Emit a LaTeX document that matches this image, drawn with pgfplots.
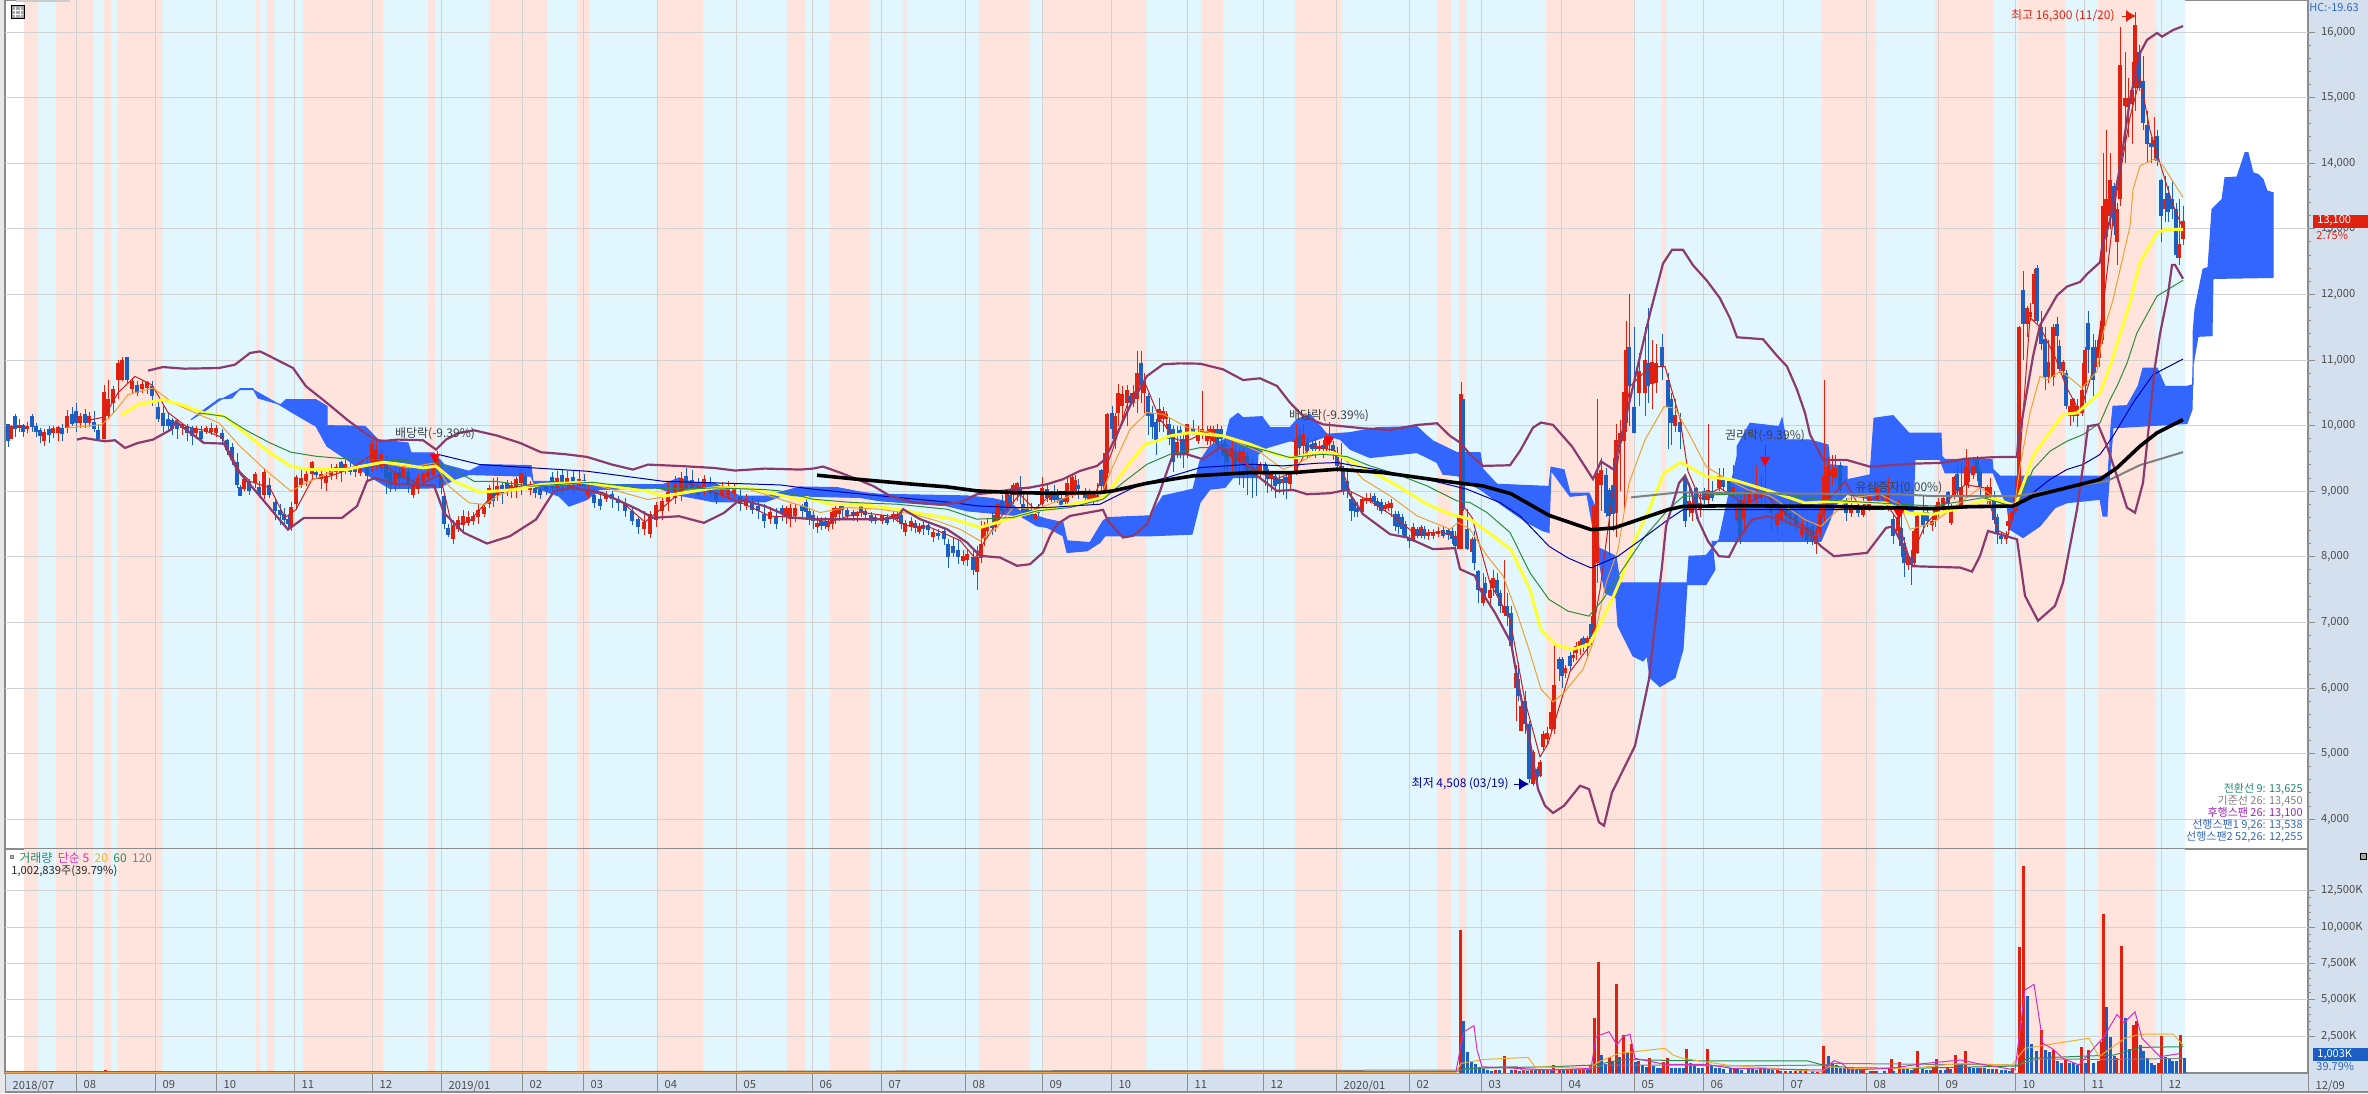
\documentclass[border=0pt]{standalone}
\usepackage{fontspec}
\setmainfont{Noto Sans CJK KR}
\usepackage{pgfplots}
\usepackage{pgfplotstable}
\pgfplotsset{compat=1.18}
\usetikzlibrary{arrows.meta}

\definecolor{bandpink}{HTML}{FFE4DE}
\definecolor{bandblue}{HTML}{E2F6FD}
\definecolor{stripbg}{HTML}{D5E0EE}
\definecolor{gridc}{HTML}{D2D2D2}
\definecolor{framec}{HTML}{8C8C8C}
\definecolor{upc}{HTML}{E2200F}
\definecolor{downc}{HTML}{1B5FC4}
\definecolor{cloud}{HTML}{3366FF}
\definecolor{bb}{HTML}{8B3A6E}
\definecolor{ma5}{HTML}{C62020}
\definecolor{ma20}{HTML}{F0A030}
\definecolor{ma60}{HTML}{FFFF30}
\definecolor{ma120}{HTML}{2E8B3A}
\definecolor{navyl}{HTML}{0000A0}
\definecolor{longg}{HTML}{808080}
\definecolor{volm}{HTML}{D030C0}
\definecolor{volo}{HTML}{F0B030}
\definecolor{volg}{HTML}{2E8B50}
\definecolor{teal}{HTML}{1F8A70}
\definecolor{purp}{HTML}{A020C0}
\definecolor{txtblue}{HTML}{3366BB}

% x is the pixel column of the reference, prices in won, volume in thousands
\pgfplotstableread{
x y
24 20000
38 0
56 20000
93 0
104 20000
111 0
118 20000
162 0
256 20000
260 0
267 20000
274 0
303 20000
383 0
428 20000
435 0
489 20000
547 0
577 20000
589 0
657 20000
703 0
787 20000
805 0
830 20000
870 0
903 20000
906 0
979 20000
1030 0
1042 20000
1146 0
1201 20000
1223 0
1295 20000
1342 0
1437 20000
1451 0
1459 20000
1466 0
1546 20000
1633 0
1662 20000
1666 0
1822 20000
1876 0
1935 20000
1993 0
2018 20000
2065 0
2098 20000
2156 0
}\bands

\pgfplotstableread{
x up lo hi bot top
8 0 9680 10020 9760 10020
11 1 9790 10010 9800 9990
15 0 9830 10170 9950 10140
19 1 9900 10100 9960 10010
23 0 9820 10020 9900 10010
27 1 9880 10060 9950 9990
32 0 9900 10170 9980 10140
36 0 9830 10040 9900 9990
40 0 9740 9960 9840 9940
44 1 9690 9950 9760 9900
49 0 9740 9990 9860 9950
53 1 9810 9990 9890 9960
58 1 9760 9990 9880 9980
62 0 9760 10020 9870 9960
67 1 9890 10240 9960 10140
72 0 10000 10280 10020 10180
76 0 9900 10340 10040 10220
80 1 9960 10190 10040 10140
85 0 9960 10260 10040 10170
89 1 9980 10210 10040 10140
94 0 9900 10230 9950 10060
98 0 9780 10020 9800 9930
104 1 9790 10620 9790 10510
108 1 10100 10700 10150 10400
113 1 10200 10600 10350 10560
118 1 10400 11000 10700 10960
122 1 10680 11040 10700 11000
127 0 10650 11050 10700 11040
132 1 10500 10720 10560 10680
137 0 10450 10680 10500 10620
142 1 10500 10700 10560 10640
147 1 10480 10680 10580 10660
152 0 10300 10680 10450 10600
158 0 10050 10400 10100 10280
163 0 9900 10300 10000 10200
168 0 9930 10200 10000 10100
172 0 9850 10120 9950 10080
177 0 9800 10100 9950 10060
182 1 9850 10040 9960 10030
187 0 9760 10030 9880 9990
192 0 9700 10000 9840 9960
196 1 9800 10000 9890 9950
201 0 9740 9990 9800 9920
206 1 9870 10000 9900 9970
211 1 9860 10040 9910 9970
216 1 9830 10010 9880 9960
222 0 9700 9950 9790 9890
227 0 9550 9800 9630 9780
232 0 9400 9730 9470 9680
237 0 9050 9580 9100 9450
240 0 8920 9100 8926 9070
244 1 9000 9230 9040 9190
249 0 8950 9180 9000 9140
255 1 9050 9300 9120 9260
259 0 8900 9150 8940 9070
264 1 8880 9350 8950 9300
269 0 8900 9200 8950 9100
275 0 8560 8880 8700 8840
280 0 8480 8800 8630 8720
284 0 8450 8740 8560 8660
288 0 8430 8630 8500 8580
291 1 8400 8830 8450 8760
296 1 8720 9250 8800 9210
301 1 9050 9360 9100 9200
306 1 9080 9340 9150 9260
312 1 9170 9460 9260 9440
316 0 9190 9340 9250 9300
321 1 9030 9320 9180 9270
326 1 9000 9300 9120 9230
331 1 9170 9420 9240 9340
336 1 9180 9420 9290 9370
341 0 9140 9460 9300 9450
345 1 9270 9470 9320 9420
350 0 9250 9450 9300 9370
355 0 9220 9370 9300 9340
360 1 9230 9370 9280 9350
367 0 9140 9500 9230 9420
372 1 9300 9800 9450 9720
376 1 9330 9790 9420 9650
381 1 9260 9640 9350 9560
386 0 8960 9530 9200 9420
390 0 8990 9350 9100 9300
395 1 9000 9400 9100 9280
399 0 9060 9350 9180 9300
403 1 9150 9420 9200 9400
408 0 8980 9380 9100 9300
413 1 8900 9200 8950 9100
418 1 8960 9260 9040 9200
423 1 9060 9300 9150 9260
428 1 9160 9370 9220 9300
433 1 9180 9480 9250 9420
437 1 9300 9620 9350 9480
441 0 8960 9400 9050 9310
444 0 8420 8950 8500 8930
448 0 8300 8500 8340 8440
453 1 8200 8560 8270 8470
458 1 8380 8620 8420 8560
463 1 8400 8720 8480 8620
468 1 8470 8700 8520 8600
473 1 8480 8680 8540 8620
478 1 8500 8800 8600 8720
484 1 8600 8800 8660 8760
489 1 8750 9100 8800 9050
493 0 8760 9200 8850 9000
497 1 8850 9220 8950 9080
502 0 8800 9130 8970 9090
507 0 8930 9170 9000 9120
511 1 8900 9160 9000 9100
516 1 8900 9220 9060 9180
521 1 8950 9320 9120 9280
525 0 9050 9290 9100 9230
530 1 8950 9160 9020 9100
535 0 8900 9100 8970 9050
540 0 8880 9120 8950 9030
546 0 8950 9130 9020 9100
552 0 8960 9290 9050 9220
557 1 8950 9310 9050 9200
562 0 8950 9320 9100 9250
567 1 9000 9310 9100 9200
573 0 8960 9310 9120 9210
579 1 9000 9330 9080 9190
584 0 9020 9260 9080 9170
588 1 8880 9100 8950 9040
594 0 8750 9030 8820 8950
600 0 8720 8970 8780 8880
606 1 8830 9000 8880 8950
612 0 8750 9000 8880 8960
618 0 8700 8920 8820 8880
625 0 8600 8900 8700 8820
632 0 8480 8780 8550 8700
638 0 8350 8620 8450 8580
644 1 8330 8700 8430 8530
650 1 8280 8700 8350 8650
656 1 8460 8840 8560 8790
662 1 8560 8950 8700 8850
668 1 8700 9150 8830 8990
675 1 8800 9230 8900 9130
681 1 8850 9290 9000 9200
686 0 8980 9350 9040 9230
692 0 8960 9330 9020 9170
698 0 8900 9200 8950 9060
704 1 8950 9250 9060 9180
710 0 8900 9210 8980 9060
716 0 8800 9100 8870 8970
722 1 8900 9140 8950 9050
728 1 8880 9160 8950 9070
734 1 8900 9130 8960 9060
740 0 8700 9060 8800 8930
746 1 8720 8960 8780 8880
752 0 8660 8920 8720 8820
758 0 8580 8880 8700 8780
764 0 8440 8800 8540 8660
770 1 8500 8760 8580 8680
776 0 8430 8750 8500 8620
782 0 8550 8790 8660 8750
786 1 8500 8780 8600 8740
790 1 8450 8800 8580 8750
795 1 8530 8810 8620 8750
802 0 8600 8800 8700 8770
806 0 8560 8960 8690 8840
809 0 8480 8750 8590 8700
813 0 8430 8700 8550 8640
817 1 8360 8620 8450 8520
821 0 8410 8600 8470 8550
825 0 8420 8600 8470 8530
828 1 8400 8560 8450 8530
832 1 8420 8750 8500 8690
835 1 8500 8800 8600 8750
839 1 8550 8800 8650 8750
842 0 8600 8800 8720 8790
847 0 8580 8750 8620 8720
853 0 8550 8720 8620 8690
857 1 8530 8700 8620 8680
861 0 8610 8790 8690 8780
865 0 8560 8750 8640 8700
871 0 8520 8680 8540 8630
875 0 8500 8640 8550 8610
882 1 8500 8640 8540 8630
887 0 8490 8650 8520 8600
893 1 8530 8700 8590 8660
897 1 8530 8690 8570 8660
901 0 8420 8690 8500 8640
905 1 8310 8560 8380 8510
911 1 8400 8600 8450 8540
915 0 8360 8560 8440 8520
919 1 8350 8520 8380 8450
923 0 8330 8540 8420 8480
928 0 8330 8530 8410 8480
933 1 8230 8430 8300 8380
938 0 8250 8420 8320 8370
944 0 8180 8460 8270 8400
948 0 7830 8270 8000 8200
953 0 8000 8300 8060 8160
958 0 7890 8250 8000 8100
963 1 7880 8100 7930 8010
967 1 7860 8100 7950 8040
973 0 7730 8110 7800 8000
977 1 7500 8170 7770 7990
981 1 7900 8550 7980 8200
984 1 8170 8530 8290 8480
987 1 8300 8590 8400 8500
992 0 8340 8680 8440 8520
995 1 8380 8700 8450 8640
998 1 8500 8820 8550 8800
1002 0 8650 8950 8700 8850
1007 1 8700 9040 8750 8980
1010 0 8750 9030 8800 8950
1013 1 8800 9130 8940 9100
1017 1 8850 9140 8950 9120
1020 0 8800 9230 8940 9060
1023 0 8600 8950 8680 8800
1027 0 8580 8950 8670 8760
1031 0 8560 8820 8640 8720
1035 1 8500 8730 8580 8660
1038 0 8620 8810 8670 8740
1042 1 8780 9210 8800 9050
1047 0 8830 9130 8900 9040
1051 1 8830 9000 8870 8950
1054 0 8820 9100 8860 8950
1057 0 8820 9030 8860 8960
1061 0 8760 8990 8790 8890
1065 1 8800 8950 8840 8900
1067 1 8780 9220 8840 9120
1072 1 8900 9250 8950 9220
1075 1 8950 9240 9000 9170
1078 0 8880 9180 9030 9100
1085 0 8850 9050 8900 8980
1089 1 8820 9030 8870 8950
1093 1 8810 9000 8850 8940
1097 1 8830 9120 8880 8950
1101 0 9000 9340 9080 9330
1105 1 8950 9720 9000 9590
1107 1 9200 10190 9280 10170
1112 0 9800 10300 9950 10200
1115 1 9650 10200 9800 10150
1118 1 10000 10640 10200 10500
1122 1 10100 10600 10300 10480
1127 1 10000 10620 10350 10550
1130 0 10300 10500 10350 10450
1133 1 10280 10620 10350 10500
1137 1 10200 11130 10400 10800
1141 0 10350 11130 10600 10950
1144 1 10200 10800 10500 10680
1148 0 9850 10500 10150 10450
1152 0 9800 10300 9980 10200
1156 0 9550 10100 9750 10050
1159 1 9900 10420 10050 10250
1163 1 9900 10280 10100 10230
1166 1 9950 10230 10100 10170
1169 0 9700 10120 9800 10020
1173 0 9300 10000 9450 9950
1177 1 9500 10000 9550 9750
1180 0 9500 10000 9850 9930
1183 0 9350 9860 9590 9790
1187 1 9500 10030 9590 10020
1193 0 9850 10080 9870 9970
1198 1 9720 10000 9770 9870
1202 1 9800 10530 9850 9950
1207 1 9700 10000 9770 9920
1210 1 9700 10000 9790 9950
1213 1 9720 10000 9770 9950
1217 0 9500 10030 9720 9950
1221 0 9550 10000 9800 9950
1224 0 9300 9800 9540 9740
1227 0 9250 9720 9450 9650
1232 1 9300 9750 9520 9670
1235 0 9250 9700 9400 9620
1239 1 9100 9680 9460 9620
1243 1 9050 9660 9460 9620
1247 0 8950 9600 9280 9530
1252 0 8900 9500 9230 9390
1256 0 8930 9430 9210 9360
1260 1 9200 9440 9280 9410
1265 0 9080 9450 9280 9410
1267 0 8980 9400 9180 9340
1271 1 9000 9300 9180 9260
1275 0 8900 9300 9080 9230
1279 0 8980 9240 9110 9180
1283 1 8950 9230 9130 9180
1286 0 8880 9280 9130 9210
1290 1 9000 9290 9110 9260
1296 1 9250 10020 9310 9790
1299 0 9500 9990 9660 9840
1303 1 9530 10020 9690 9870
1307 0 9500 9830 9610 9740
1312 0 9550 9780 9640 9720
1315 0 9500 9820 9640 9730
1319 1 9550 9760 9640 9690
1323 0 9500 9780 9640 9700
1326 1 9550 9880 9640 9820
1329 1 9600 10050 9740 9840
1333 0 9480 9760 9560 9700
1337 0 9300 9680 9390 9590
1341 0 9100 9740 9310 9390
1343 0 8950 9380 9000 9330
1347 0 8900 9300 9000 9160
1351 0 8550 9000 8700 8880
1354 0 8600 8880 8700 8830
1357 0 8600 8830 8680 8750
1362 1 8650 8900 8680 8880
1366 1 8800 8980 8850 8900
1370 1 8820 8980 8850 8900
1374 0 8780 8980 8830 8930
1377 0 8720 8900 8780 8850
1381 0 8650 8880 8700 8830
1385 1 8680 8840 8730 8790
1388 1 8700 8850 8750 8800
1391 1 8600 8880 8750 8820
1395 0 8400 8700 8470 8650
1398 0 8350 8700 8450 8660
1402 0 8340 8650 8420 8600
1405 0 8280 8540 8300 8500
1409 0 8130 8340 8240 8290
1413 1 8230 8520 8240 8450
1417 0 8280 8460 8320 8420
1421 1 8280 8480 8320 8450
1424 0 8270 8470 8320 8420
1428 1 8260 8420 8320 8370
1433 1 8270 8420 8320 8380
1438 1 8300 8450 8350 8400
1443 0 8280 8460 8320 8410
1448 0 8250 8440 8330 8410
1452 0 8200 8450 8270 8400
1455 0 8100 8400 8170 8300
1459 1 8120 9200 8120 8630
1461 1 8120 10660 8120 10480
1463 0 8700 10400 8730 10400
1467 0 8100 8730 8120 8420
1472 1 7950 8300 8070 8270
1474 0 7800 8400 7900 8270
1478 0 7300 7800 7500 7780
1483 1 7250 7750 7300 7530
1485 0 7350 7700 7450 7600
1490 1 7250 7650 7375 7500
1493 1 7400 7800 7530 7680
1497 0 7400 7750 7450 7650
1500 0 7150 7500 7250 7450
1504 1 7100 7950 7150 7250
1507 0 6950 7450 7100 7250
1511 0 6600 7250 6640 7150
1516 1 5500 6350 6000 6230
1518 0 5800 6400 5880 6130
1521 1 5350 5900 5350 5730
1525 0 5300 5950 5450 5800
1529 0 4550 5500 4610 5450
1533 1 4508 5050 4540 5020
1537 0 4550 4800 4640 4760
1540 1 4650 4900 4660 4870
1543 1 5050 5350 5100 5300
1547 1 5150 5400 5220 5320
1551 1 5350 5800 5370 5630
1554 1 5300 6700 5370 6050
1559 0 6100 6480 6290 6440
1562 0 6000 6480 6180 6440
1565 1 6150 6350 6230 6310
1570 0 6280 6550 6340 6490
1573 1 6400 6600 6460 6510
1576 1 6430 6700 6540 6640
1580 1 6500 6750 6620 6710
1583 0 6550 6800 6660 6770
1587 1 6450 6800 6690 6760
1591 0 6650 7100 6740 6970
1594 1 6780 8770 6790 8770
1597 1 7600 10400 7900 9280
1601 1 8700 9500 9100 9330
1606 0 8600 9350 8670 9250
1609 0 8000 9050 8620 9020
1613 0 8400 9500 8650 9100
1616 1 8300 10020 8670 9780
1620 1 9000 10080 9730 9880
1624 1 8700 10900 9760 10520
1626 1 9900 11600 10040 11150
1629 0 10000 12000 10600 11200
1634 0 9880 11500 9880 10290
1639 1 10300 11100 10490 10840
1645 1 10150 11500 10500 11000
1648 0 10350 11800 10600 10950
1652 1 10250 11300 10640 10970
1656 1 10500 11250 10650 10950
1662 0 10700 11400 10900 11200
1668 0 9650 10800 10290 10700
1671 0 9700 10500 10040 10400
1675 1 9900 10400 10000 10160
1680 0 9650 10200 9900 10060
1685 0 8450 9270 8540 9220
1689 1 8600 9120 8720 8850
1692 1 8550 8980 8670 8820
1696 0 8580 9070 8770 9050
1700 1 8600 8980 8720 8820
1704 0 8800 9050 8870 9000
1708 1 8800 10030 8870 9020
1712 0 8850 9150 8900 9000
1719 1 9000 9350 9050 9230
1723 0 9000 9350 9070 9200
1729 0 8920 9200 8970 9150
1733 1 8900 9400 8970 9070
1737 1 8500 9000 8560 8790
1740 0 8200 8950 8310 8870
1744 1 8350 9000 8570 8870
1749 1 8700 9050 8820 9000
1756 1 8780 9400 8900 8970
1761 1 8820 9250 8900 8970
1765 0 8800 9450 8920 9020
1771 0 8400 8900 8670 8770
1777 1 8350 8800 8490 8670
1781 1 8480 8750 8570 8720
1786 0 8500 8800 8620 8720
1790 0 8450 8950 8570 8670
1796 0 8400 8700 8490 8640
1802 1 8280 8600 8340 8440
1807 0 8200 8550 8260 8460
1812 0 8180 8500 8240 8460
1816 1 8050 8400 8190 8310
1820 1 8300 8780 8360 8670
1824 1 8500 10700 8670 9230
1828 1 8800 9500 8870 9380
1832 1 9100 9550 9230 9330
1835 1 9150 9550 9200 9350
1840 0 8950 9450 9020 9400
1846 0 8550 8900 8670 8870
1851 1 8600 8950 8670 8770
1858 0 8600 8800 8670 8770
1863 1 8600 8980 8640 8770
1869 1 8700 9100 8770 8970
1877 1 8800 9150 8870 9070
1888 1 8700 9200 8790 8970
1893 0 8200 8650 8310 8570
1898 1 8300 8870 8400 8600
1901 0 8000 8850 8160 8440
1904 0 7700 8300 7900 8210
1908 1 7800 8050 7880 8010
1911 0 7570 8100 7880 7980
1914 1 7850 8420 7910 8390
1917 1 8050 8650 8060 8620
1923 0 8350 8950 8480 8680
1927 0 8450 8750 8550 8680
1932 1 8400 8650 8480 8550
1935 1 8450 8780 8560 8740
1938 1 8600 8900 8660 8840
1943 1 8700 8950 8760 8890
1948 0 8780 9000 8810 8990
1951 1 8480 8800 8510 8760
1954 1 8880 9230 8910 9220
1957 0 8950 9380 9010 9270
1961 1 8750 9420 8770 9070
1966 1 8900 9650 9090 9370
1968 1 9050 9500 9140 9340
1973 1 9180 9500 9240 9390
1977 0 9150 9530 9280 9490
1980 0 8950 9350 9060 9290
1987 1 8800 9100 8860 9060
1990 1 8750 9200 8910 9060
1994 0 8500 9000 8560 8860
1997 0 8200 8650 8350 8600
2001 0 8200 8380 8270 8320
2006 1 8200 8400 8270 8340
2008 1 8400 8650 8470 8550
2012 1 8550 8700 8570 8680
2015 1 8650 8950 8700 8890
2017 1 8700 9300 8770 9210
2019 1 8850 11520 8860 11500
2023 0 11000 12360 11550 12060
2027 1 11350 11830 11550 11800
2030 1 11600 11870 11650 11730
2034 1 11600 12380 11850 12310
2037 0 11550 12450 11600 12410
2041 0 11150 11750 11240 11500
2045 0 10550 11500 10740 11320
2048 1 10650 11300 10740 10970
2053 1 10600 11550 10740 11500
2057 0 11200 11650 11370 11550
2059 0 10800 11300 10860 11220
2063 1 10700 11000 10840 10970
2066 0 10250 10850 10300 10800
2070 1 10000 10400 10140 10300
2073 1 10050 10420 10140 10400
2077 1 9980 10400 10140 10300
2082 1 10150 10950 10190 10550
2085 1 10350 11200 10600 11160
2088 0 10800 11740 11160 11560
2093 0 10450 11400 10700 11200
2095 1 10800 11300 10900 11200
2099 1 10900 11400 11030 11310
2102 1 11250 11800 11300 11600
2103 1 11520 14160 11520 13350
2106 1 12650 14510 12870 13460
2110 1 13000 14150 13200 13750
2114 0 12900 13700 13050 13650
2117 1 12450 13400 12800 13300
2120 1 13350 16080 13450 15500
2125 1 14000 15700 14870 15000
2128 1 14400 15300 14850 15000
2132 1 14300 15550 14900 15120
2135 1 14800 16300 15150 16100
2139 0 15100 15800 15150 15700
2143 0 14500 15640 14620 15250
2147 0 14000 14800 14290 14590
2151 0 14000 14400 14240 14310
2154 1 14050 14700 14240 14360
2157 0 13950 14500 14030 14410
2161 0 12800 13760 13200 13750
2165 1 13100 13800 13300 13460
2168 0 13100 13650 13250 13550
2172 0 13150 13750 13300 13460
2176 0 12550 13400 12600 13300
2179 1 12450 13450 12550 12770
2183 1 12750 13350 12840 13120
}\candles

\newcommand{\sm}{\fontsize{5.6}{6.5}\selectfont}
\newcommand{\an}{\fontsize{6}{7}\selectfont}
\newcommand{\rd}{\fontsize{5.5}{6}\selectfont}

% wick and body of one colour, taken from the table by the up flag
\newcommand{\drawcandles}[2]{%
  \addplot[draw=none, mark=none, forget plot, unbounded coords=discard,
    error bars/.cd, y dir=plus, y explicit, error mark=none,
    error bar style={color=#2, line width=0.5pt}]
    table[x=x, y expr={\thisrow{up}==#1 ? \thisrow{lo} : nan},
      y error plus expr={\thisrow{hi}-\thisrow{lo}}] {\candles};
  \addplot[draw=none, mark=none, forget plot, unbounded coords=discard,
    error bars/.cd, y dir=plus, y explicit, error mark=none,
    error bar style={color=#2, line width=1.6pt}]
    table[x=x, y expr={\thisrow{up}==#1 ? \thisrow{bot} : nan},
      y error plus expr={\thisrow{top}-\thisrow{bot}}] {\candles};
}

\pgfplotsset{
  chartpanel/.style={
    scale only axis, clip=true,
    scaled ticks=false,
    width=1151.5pt,
    xmin=5, xmax=2308,
    ytick pos=right, yticklabel pos=right,
    tick align=outside,
    axis line style={draw=framec, line width=0.6pt},
    ytick style={draw=framec, line width=0.5pt},
    major tick length=3.5pt, minor tick length=1.5pt,
    minor y tick num=4,
    tick label style={font=\sm, text=black!70},
    yticklabel style={anchor=west, xshift=-0.5pt},
  },
  monthgrid/.style={ycomb, gridc, line width=0.5pt, forget plot, mark=none},
  levelgrid/.style={xcomb, gridc, line width=0.5pt, forget plot, mark=none},
}

\begin{document}
\begin{tikzpicture}
\path[use as bounding box] (0,0) rectangle (1184pt,-546.5pt);
\begin{scope}[x=0.5pt, y=-0.5pt]
  \fill[black!9] (0,0) rectangle (5,1093);
  \fill[stripbg] (2308,0) rectangle (2368,1093);
  \fill[stripbg] (5,1073) rectangle (2368,1092);
  \draw[framec, line width=0.6pt] (5,1092) -- (2368,1092);
\end{scope}

% ---- price panel ----
\begin{axis}[chartpanel,
  at={(2.5pt,-424.5pt)}, anchor=south west,
  height=424.5pt,
  ymin=3546, ymax=16488,
  xtick=\empty,
  ytick={4000,5000,...,16000},
  yticklabels={{4,000},{5,000},{6,000},{7,000},{8,000},{9,000},{10,000},{11,000},{12,000},{13,000},{14,000},{15,000},{16,000}},
]
  \addplot[fill=bandblue, draw=none, forget plot] coordinates {(24,0)(24,20000)(2185,20000)(2185,0)} --cycle;
  \addplot[const plot, fill=bandpink, draw=none, forget plot] table {\bands} \closedcycle;
  \addplot[monthgrid] coordinates {(76,20000)(155,20000)(216,20000)(294,20000)(372,20000)(441,20000)(522,20000)(583,20000)(657,20000)(736,20000)(812,20000)(881,20000)(965,20000)(1042,20000)(1111,20000)(1187,20000)(1263,20000)(1336,20000)(1409,20000)(1481,20000)(1561,20000)(1634,20000)(1703,20000)(1783,20000)(1866,20000)(1938,20000)(2015,20000)(2084,20000)(2161,20000)};
  \addplot[levelgrid] coordinates {(2308,4000)(2308,5000)(2308,6000)(2308,7000)(2308,8000)(2308,9000)(2308,10000)(2308,11000)(2308,12000)(2308,13000)(2308,14000)(2308,15000)(2308,16000)};

  % ichimoku cloud: leading span edge going right, other edge coming back
  \addplot[fill=cloud, draw=cloud, line width=0.5pt, forget plot] coordinates {
    (191,10091)(202,10218)(219,10406)(232,10421)(240,10563)(253,10563)(258,10421)(281,10320)(286,10396)(316,10396)(327,10294)(327,10000)(365,9990)(378,9787)(408,9736)(411,9584)(434,9584)(444,9406)(469,9305)(482,9406)(531,9391)(533,9152)(548,9152)(592,9102)(663,9102)(679,9203)(694,9127)(714,9127)(740,8924)(765,8924)(800,9065)(837,9056)(863,8980)(880,8954)(967,8929)(993,8888)(1010,8827)(1020,8700)(1047,8574)(1063,8523)(1067,8244)(1090,8218)(1103,8548)(1108,8599)(1147,8624)(1150,8624)(1163,8929)(1193,9031)(1200,9462)(1210,9690)(1225,9792)(1230,10096)(1238,10188)(1243,10122)(1262,10137)(1270,9970)(1290,9970)(1297,10096)(1310,10173)(1327,9868)(1350,9893)(1377,9970)(1417,9985)(1427,9843)(1433,9766)(1457,9589)(1480,9589)(1483,9335)(1497,9107)(1549,9073)(1551,9367)(1564,9327)(1570,8972)(1589,8972)(1595,8769)(1599,8135)(1616,8009)(1620,7603)(1687,7603)(1689,8009)(1706,8019)(1719,8262)(1737,9530)(1737,9682)(1750,10037)(1779,9986)(1782,10113)(1786,9783)(1809,9783)(1828,9707)(1830,9403)(1847,9378)(1847,9175)(1870,9250)(1874,10113)(1893,10153)(1909,9885)(1941,9885)(1942,9530)(1945,9484)(1992,9484)(1993,9332)(2000,9231)(2100,9231)(2108,9231)(2111,9991)(2113,10295)(2127,10305)(2138,10599)(2143,10878)(2157,10878)(2165,10599)(2187,10599)(2193,10625)(2193,11411)(2195,11777)(2203,12385)(2208,12410)(2212,13298)(2222,13450)(2225,13779)(2237,13790)(2245,14160)(2248,14160)(2253,13855)(2258,13830)(2263,13754)(2267,13577)(2273,13551)
    (2273,12258)(2213,12243)(2212,11371)(2198,11361)(2193,10915)(2192,10245)(2187,10032)(2113,9966)(2108,8926)(2107,8622)(2103,8622)(2100,8876)(2067,8825)(2055,8749)(2040,8470)(2023,8293)(2010,8419)(2007,8774)(2000,9028)(1993,9281)(1945,9281)(1940,9484)(1915,9484)(1913,8680)(1886,8800)(1870,8880)(1847,8950)(1835,8780)(1830,8560)(1821,8237)(1712,8237)(1715,7806)(1706,7578)(1687,7578)(1683,6589)(1675,6158)(1660,6021)(1650,6158)(1647,6488)(1643,6412)(1633,6488)(1618,6944)(1616,7375)(1605,7451)(1595,8262)(1587,8947)(1570,8922)(1551,9316)(1549,8371)(1543,8396)(1527,8523)(1503,8777)(1480,9030)(1467,9132)(1458,9234)(1443,9259)(1437,9437)(1417,9589)(1370,9513)(1350,9640)(1340,9792)(1327,9843)(1307,9731)(1290,9767)(1267,9665)(1258,9563)(1257,9208)(1233,9208)(1225,9056)(1210,9031)(1200,8827)(1192,8345)(1150,8320)(1105,8320)(1100,8218)(1087,8091)(1067,8066)(1063,8320)(1047,8447)(1037,8472)(1020,8624)(967,8701)(947,8777)(880,8853)(860,8904)(793,8929)(781,8924)(765,8838)(714,8838)(679,8939)(658,9051)(599,9025)(587,8873)(569,8772)(559,8924)(536,9051)(531,9228)(469,9254)(454,9178)(439,9051)(390,9041)(372,9203)(347,9482)(327,9685)(316,9990)(293,10193)(281,10305)(253,10548)(240,10548)(219,10381)(202,10193)} --cycle;

  \drawcandles{1}{upc}
  \drawcandles{0}{downc}

  % price moving averages
  \addplot[ma5, line width=0.5pt, forget plot] coordinates {(88,10080)(104,10130)(118,10500)(135,10750)(152,10620)(168,10200)(187,9980)(204,9930)(222,9820)(240,9300)(250,9150)(270,9050)(285,8600)(296,8720)(312,9180)(330,9230)(350,9340)(372,9550)(395,9280)(420,9100)(440,9250)(452,8470)(470,8550)(490,8900)(510,9050)(530,9100)(560,9120)(590,9000)(620,8860)(645,8530)(665,8780)(690,9120)(715,8980)(745,8800)(770,8620)(800,8600)(830,8530)(860,8680)(890,8620)(905,8480)(930,8450)(960,8250)(975,7980)(985,8250)(1005,8700)(1020,8950)(1035,8720)(1050,8940)(1075,8960)(1095,8950)(1112,9600)(1130,10450)(1145,10650)(1160,10100)(1175,9800)(1185,9750)(1205,9900)(1225,9600)(1250,9350)(1275,9180)(1295,9300)(1310,9700)(1335,9620)(1350,9000)(1370,8850)(1395,8600)(1415,8350)(1440,8380)(1457,8300)(1462,8800)(1472,8600)(1490,7600)(1510,7050)(1525,5800)(1540,4950)(1548,5150)(1570,6250)(1590,6650)(1600,7500)(1612,8900)(1630,10600)(1650,10900)(1665,10900)(1680,10100)(1688,9300)(1700,8880)(1720,9050)(1745,8800)(1765,8950)(1790,8600)(1815,8350)(1830,8900)(1845,9150)(1860,8750)(1880,8950)(1898,8550)(1910,7950)(1925,8480)(1945,8820)(1965,9100)(1985,9050)(1998,8400)(2008,8330)(2017,8900)(2030,11650)(2040,11500)(2055,11050)(2066,10600)(2080,10200)(2095,10950)(2103,11800)(2115,13400)(2130,14700)(2140,15300)(2150,14500)(2160,14000)(2172,13400)(2183,13000)};
  \addplot[ma20, line width=0.5pt, forget plot] coordinates {(66,9965)(102,10015)(115,10218)(128,10472)(153,10574)(173,10345)(199,10168)(219,10041)(240,9685)(265,9330)(291,9000)(306,9127)(337,9330)(357,9381)(383,9432)(408,9355)(434,9432)(449,9076)(469,8823)(485,8797)(500,8949)(526,9076)(556,9102)(587,9127)(612,9025)(648,8873)(668,8924)(689,9025)(724,9076)(750,9025)(781,8873)(807,8751)(820,8675)(847,8751)(880,8726)(913,8650)(937,8548)(960,8421)(980,8244)(997,8447)(1013,8751)(1037,8726)(1070,8929)(1103,9005)(1113,9386)(1130,9944)(1147,10198)(1163,10173)(1187,9975)(1217,9873)(1237,9746)(1260,9594)(1283,9335)(1297,9411)(1317,9589)(1340,9564)(1363,9183)(1390,8929)(1417,8624)(1450,8421)(1458,8523)(1470,8421)(1487,8015)(1503,7711)(1518,7096)(1530,6538)(1541,5980)(1553,5788)(1564,5930)(1583,6285)(1593,6690)(1606,7603)(1618,8110)(1629,9124)(1645,9783)(1664,10290)(1675,10265)(1687,9935)(1706,9377)(1725,9200)(1748,9022)(1771,8921)(1805,8566)(1821,8465)(1850,8900)(1880,8950)(1900,8800)(1910,8420)(1933,8520)(1960,8825)(1980,9053)(1993,8926)(2003,8800)(2015,8825)(2020,9383)(2030,10194)(2040,10750)(2048,10700)(2060,10828)(2070,10726)(2082,10574)(2097,10828)(2103,11410)(2113,11918)(2117,12180)(2130,13042)(2133,13600)(2140,13960)(2155,14070)(2163,13960)(2183,13480)};
  \addplot[ma60, line width=1.5pt, forget plot] coordinates {(122,10168)(138,10320)(163,10396)(184,10305)(204,10193)(224,10142)(245,9888)(270,9584)(291,9381)(306,9330)(347,9330)(362,9381)(383,9442)(403,9406)(423,9355)(436,9381)(454,9152)(480,8985)(515,9025)(541,9102)(582,9137)(612,9076)(648,9000)(663,8924)(684,8975)(714,9051)(750,9051)(770,8975)(800,8873)(807,8904)(830,8802)(867,8787)(897,8726)(923,8650)(953,8574)(980,8447)(997,8523)(1013,8599)(1037,8700)(1073,8802)(1103,8904)(1113,9081)(1130,9437)(1145,9716)(1157,9766)(1170,9842)(1190,9893)(1223,9843)(1250,9716)(1267,9614)(1283,9528)(1297,9513)(1313,9589)(1333,9589)(1350,9462)(1377,9259)(1403,9031)(1427,8802)(1450,8650)(1470,8574)(1493,8320)(1511,8110)(1530,7501)(1541,6893)(1555,6665)(1572,6589)(1589,6665)(1599,6944)(1612,7350)(1622,7704)(1635,8262)(1649,8719)(1664,9276)(1681,9443)(1706,9225)(1733,9175)(1771,8997)(1805,8820)(1832,8845)(1886,8820)(1909,8668)(1933,8648)(1963,8749)(1987,8876)(1997,8876)(2015,8774)(2025,9180)(2033,9535)(2047,9839)(2063,10169)(2077,10194)(2100,10498)(2110,10904)(2130,11878)(2140,12485)(2157,12943)(2167,12993)(2183,12993)};
  \addplot[ma120, line width=0.5pt, forget plot] coordinates {(199,10193)(224,10142)(245,9939)(270,9736)(291,9594)(316,9533)(347,9492)(378,9482)(434,9447)(454,9330)(474,9152)(495,9152)(531,9076)(592,9137)(638,9051)(689,9035)(714,9051)(765,9025)(780,9005)(813,8878)(853,8827)(897,8802)(947,8726)(977,8574)(1013,8599)(1037,8700)(1070,8751)(1103,8878)(1123,9132)(1147,9411)(1170,9563)(1200,9665)(1227,9665)(1250,9680)(1267,9614)(1290,9513)(1323,9564)(1347,9528)(1370,9386)(1397,9259)(1427,9081)(1457,8853)(1470,8827)(1487,8675)(1510,8371)(1530,7755)(1549,7350)(1568,7172)(1589,7096)(1603,7350)(1618,7705)(1645,8313)(1668,8719)(1683,8921)(1717,8947)(1771,8972)(1821,8870)(1933,8774)(1983,8901)(2017,8749)(2033,9332)(2050,9611)(2067,9763)(2083,9864)(2100,10042)(2110,10397)(2117,10600)(2127,10954)(2137,11416)(2157,11975)(2183,12215)};
  \addplot[navyl, line width=0.5pt, forget plot] coordinates {(439,9558)(480,9406)(587,9305)(663,9152)(780,9096)(813,9031)(880,8929)(953,8827)(977,8777)(1013,8751)(1047,8751)(1100,8802)(1130,9031)(1147,9132)(1167,9208)(1200,9360)(1250,9411)(1283,9386)(1317,9426)(1337,9437)(1383,9310)(1433,9157)(1467,9031)(1500,8827)(1520,8624)(1549,8161)(1568,7983)(1591,7831)(1618,8009)(1641,8262)(1668,8566)(1683,8719)(1733,8719)(1821,8719)(1933,8730)(2017,8774)(2033,8977)(2050,9180)(2067,9332)(2083,9408)(2100,9560)(2113,9839)(2133,10346)(2153,10777)(2183,11015)};
  \addplot[longg, line width=1pt, forget plot] coordinates {(1631,8906)(1679,8982)(1733,8972)(1821,8962)(1900,8952)(1933,8926)(1993,8926)(2017,8926)(2067,9053)(2107,9155)(2140,9398)(2183,9596)};

  % bollinger bands
  \addplot[bb, line width=1.1pt, forget plot] coordinates {(148,10838)(163,10893)(184,10868)(219,10878)(235,10929)(250,11107)(260,11132)(270,11056)(293,10878)(306,10599)(327,10345)(347,10092)(367,9863)(380,9761)(398,9787)(423,9777)(436,9635)(446,9787)(459,9888)(474,9929)(497,9848)(520,9736)(541,9594)(566,9563)(587,9523)(612,9406)(633,9330)(648,9406)(684,9381)(714,9355)(735,9315)(765,9345)(800,9330)(813,9345)(823,9376)(840,9284)(857,9183)(873,9081)(890,8929)(913,8827)(940,8802)(960,8827)(977,8954)(993,8980)(1013,9031)(1030,9056)(1047,9107)(1063,9183)(1080,9310)(1097,9386)(1105,9487)(1113,9741)(1130,10300)(1147,10756)(1163,10934)(1180,10949)(1200,10944)(1223,10858)(1243,10695)(1260,10721)(1277,10604)(1290,10350)(1303,10147)(1323,10020)(1363,9959)(1390,9934)(1417,10010)(1437,10036)(1450,9843)(1460,9741)(1470,9563)(1483,9386)(1510,9396)(1520,9614)(1533,9970)(1541,10047)(1553,10011)(1572,9682)(1593,9185)(1601,9454)(1614,9327)(1618,9631)(1626,10138)(1650,11712)(1663,12470)(1672,12680)(1683,12680)(1693,12445)(1707,12207)(1720,11940)(1730,11636)(1737,11347)(1763,11317)(1777,11064)(1787,10902)(1797,10548)(1805,10194)(1810,9865)(1823,9485)(1830,9475)(1847,9475)(1870,9374)(1913,9420)(1943,9433)(1965,9494)(1993,9519)(2017,9524)(2018,9738)(2033,11056)(2040,11530)(2057,11985)(2067,12120)(2080,12190)(2087,12310)(2100,12490)(2102,12720)(2110,13130)(2120,13940)(2130,14970)(2140,15680)(2147,15880)(2157,15985)(2162,15930)(2173,16030)(2183,16090)};
  \addplot[bb, line width=1.1pt, forget plot] coordinates {(77,9787)(84,9812)(105,9761)(115,9777)(125,9660)(138,9736)(153,9787)(171,9939)(176,10066)(186,9939)(204,9736)(224,9726)(237,9330)(260,8924)(278,8594)(288,8416)(304,8594)(342,8594)(357,8772)(367,9152)(375,9203)(393,9117)(434,9086)(444,8670)(464,8365)(487,8203)(510,8315)(536,8569)(554,9000)(571,9051)(602,8975)(638,8721)(653,8594)(679,8619)(704,8518)(724,8670)(740,8873)(765,8772)(780,8675)(790,8599)(813,8574)(847,8574)(880,8574)(897,8599)(903,8726)(920,8574)(947,8421)(967,8218)(980,8015)(1000,7990)(1017,7863)(1030,7888)(1043,8066)(1050,8320)(1057,8497)(1070,8624)(1103,8716)(1108,8548)(1123,8295)(1133,8320)(1147,8497)(1160,9000)(1173,9563)(1187,9563)(1203,9487)(1220,9665)(1237,9589)(1257,9234)(1277,9005)(1293,9020)(1307,8954)(1330,8970)(1347,9020)(1363,8650)(1390,8345)(1407,8295)(1433,8117)(1455,8132)(1460,7812)(1475,7711)(1480,7501)(1495,7147)(1511,6690)(1518,6082)(1530,5170)(1538,4460)(1545,4206)(1553,4095)(1564,4206)(1580,4510)(1589,4460)(1599,3953)(1604,3902)(1612,4409)(1626,4840)(1635,5119)(1649,6133)(1656,7096)(1662,7857)(1666,8465)(1679,9124)(1685,9236)(1691,9023)(1698,8566)(1708,8237)(1719,8009)(1729,7999)(1737,8237)(1752,8566)(1767,8617)(1782,8566)(1805,8414)(1821,8161)(1834,8009)(1867,8060)(1886,8440)(1893,8465)(1913,7857)(1960,7836)(1972,7775)(1980,8014)(1988,8394)(2017,8267)(2025,7405)(2038,7025)(2055,7253)(2063,7608)(2077,8724)(2083,9383)(2088,9991)(2098,10016)(2107,9687)(2117,9230)(2127,8749)(2135,8673)(2143,9129)(2155,10904)(2160,11400)(2168,12000)(2172,12450)(2175,12450)(2183,12240)};

  \addplot[black, line width=1.8pt, forget plot] coordinates {(817,9244)(857,9183)(913,9107)(947,9066)(977,9005)(1013,8980)(1047,8970)(1100,8980)(1113,9005)(1147,9122)(1193,9234)(1250,9284)(1293,9284)(1337,9335)(1383,9284)(1450,9142)(1483,9081)(1511,8962)(1549,8632)(1591,8414)(1614,8440)(1668,8719)(1683,8769)(1733,8779)(1825,8769)(1909,8743)(1933,8734)(1967,8764)(2013,8774)(2033,8926)(2067,9053)(2100,9180)(2117,9357)(2140,9687)(2157,9890)(2183,10092)};

  % ex-dividend and rights markers
  \addplot[only marks, mark=triangle*, mark size=2.6pt, color=red, forget plot,
    mark options={rotate=180, fill=red}] coordinates {(435,9523)(1329,9782)(1765,9477)(1899,8667)};
\end{axis}

% ---- volume panel ----
\begin{axis}[chartpanel,
  at={(2.5pt,-536.5pt)}, anchor=south west,
  height=112pt,
  ymin=-20, ymax=15364,
  xtick={5,76,155,216,294,372,441,522,583,657,736,812,881,965,1042,1111,1187,1263,1336,1409,1481,1561,1634,1703,1783,1866,1938,2015,2084,2161,2308},
  xticklabels={2018/07,08,09,10,11,12,2019/01,02,03,04,05,06,07,08,09,10,11,12,2020/01,02,03,04,05,06,07,08,09,10,11,12,12/09},
  xtick style={draw=framec, line width=0.5pt, /pgfplots/major tick length=9.5pt},
  xtick pos=bottom,
  xticklabel style={anchor=north west, yshift=3.2pt, xshift=0.3pt},
  ytick={2500,5000,7500,10000,12500},
  yticklabels={{2,500K},{5,000K},{7,500K},{10,000K},{12,500K}},
]
  \addplot[fill=bandblue, draw=none, forget plot] coordinates {(24,0)(24,20000)(2185,20000)(2185,0)} --cycle;
  \addplot[const plot, fill=bandpink, draw=none, forget plot] table {\bands} \closedcycle;
  \addplot[monthgrid] coordinates {(76,20000)(155,20000)(216,20000)(294,20000)(372,20000)(441,20000)(522,20000)(583,20000)(657,20000)(736,20000)(812,20000)(881,20000)(965,20000)(1042,20000)(1111,20000)(1187,20000)(1263,20000)(1336,20000)(1409,20000)(1481,20000)(1561,20000)(1634,20000)(1703,20000)(1783,20000)(1866,20000)(1938,20000)(2015,20000)(2084,20000)(2161,20000)};
  \addplot[levelgrid] coordinates {(2308,2500)(2308,5000)(2308,7500)(2308,10000)(2308,12500)};

  \addplot[ycomb, upc, line width=1.5pt, mark=none, forget plot] coordinates {(95,50)(105,170)(110,60)(120,120)(240,60)(268,70)(330,50)(1026,60)(1420,70)(1460,9800)(1495,200)(1504,1145)(1515,180)(1523,180)(1531,200)(1539,210)(1547,220)(1553,530)(1559,210)(1567,200)(1571,170)(1579,200)(1583,180)(1590,500)(1594,3730)(1598,7600)(1609,1050)(1616,6090)(1623,2590)(1631,1970)(1638,820)(1649,985)(1663,710)(1667,985)(1686,1625)(1707,1625)(1734,300)(1760,350)(1777,180)(1785,150)(1795,120)(1805,110)(1817,120)(1823,1830)(1863,200)(1873,150)(1889,300)(1891,915)(1899,730)(1914,350)(1917,1490)(1933,400)(1936,915)(1947,350)(1955,1210)(1965,1490)(1980,300)(1996,250)(2012,300)(2019,8630)(2021,3400)(2023,14200)(2041,2930)(2053,1560)(2065,900)(2081,1790)(2088,1560)(2098,800)(2101,2100)(2103,10900)(2116,1000)(2121,8700)(2133,3270)(2136,3550)(2158,700)(2161,2540)(2180,2590)};
  \addplot[ycomb, downc, line width=1.5pt, mark=none, forget plot] coordinates {(1463,3550)(1467,1440)(1471,820)(1475,570)(1479,410)(1483,250)(1487,200)(1491,150)(1499,180)(1511,200)(1519,150)(1527,120)(1535,180)(1543,230)(1551,200)(1563,180)(1575,160)(1587,200)(1601,1210)(1605,600)(1612,800)(1619,1100)(1627,1330)(1635,750)(1642,500)(1646,400)(1653,450)(1657,350)(1660,300)(1671,350)(1675,300)(1679,350)(1683,300)(1690,700)(1694,500)(1698,350)(1702,300)(1711,450)(1715,350)(1719,300)(1723,250)(1730,300)(1737,250)(1741,200)(1748,250)(1752,250)(1756,220)(1764,300)(1768,250)(1772,200)(1780,150)(1790,120)(1800,100)(1812,100)(1826,400)(1828,1145)(1832,700)(1836,500)(1840,350)(1844,300)(1848,250)(1852,250)(1856,200)(1860,180)(1870,150)(1876,120)(1884,150)(1893,150)(1903,300)(1907,280)(1911,200)(1922,250)(1926,200)(1930,180)(1940,200)(1945,180)(1950,250)(1958,600)(1961,550)(1969,400)(1973,350)(1977,350)(1984,300)(1988,250)(1992,280)(2001,200)(2005,180)(2009,150)(2027,5270)(2031,2000)(2036,1500)(2045,1560)(2049,1400)(2057,800)(2061,700)(2069,700)(2073,650)(2077,500)(2085,700)(2093,650)(2106,4530)(2110,2430)(2114,1150)(2125,3730)(2129,1600)(2140,1900)(2143,1500)(2147,1000)(2151,700)(2154,550)(2165,1100)(2169,1000)(2172,800)(2176,800)(2184,1003)};

  \addplot[longg, line width=0.5pt, forget plot] coordinates {(5,20)(1456,180)(1502,410)(1517,410)(1522,180)(1589,230)(1604,525)(1681,525)(1727,460)(1823,525)(1833,640)(2017,525)(2038,940)(2114,915)(2183,985)};
  \addplot[volg, line width=0.5pt, forget plot] coordinates {(5,20)(1456,70)(1466,300)(1553,415)(1594,530)(1624,915)(1681,825)(1808,805)(1823,525)(1849,345)(1910,300)(2017,460)(2027,985)(2114,1215)(2140,1740)(2183,1785)};
  \addplot[volo, line width=0.5pt, forget plot] coordinates {(5,10)(1456,10)(1461,640)(1484,915)(1528,1050)(1535,415)(1589,300)(1599,755)(1619,1330)(1665,1680)(1673,1215)(1683,985)(1727,525)(1757,370)(1821,70)(1829,415)(1849,300)(1910,300)(1961,640)(2012,525)(2025,1680)(2089,2370)(2099,1100)(2125,2370)(2140,2640)(2173,2660)(2183,1900)};
  \addplot[volm, line width=0.5pt, forget plot] coordinates {(5,70)(1456,70)(1460,1560)(1464,2815)(1474,3230)(1477,1560)(1482,410)(1553,185)(1591,300)(1596,2475)(1609,2815)(1617,1900)(1623,2475)(1630,2640)(1635,985)(1665,575)(1706,575)(1732,300)(1823,185)(1834,825)(1842,640)(1849,185)(1890,300)(1925,640)(1961,870)(1977,640)(2015,185)(2025,5680)(2034,6070)(2043,2015)(2053,1620)(2063,985)(2079,530)(2104,2475)(2117,4000)(2124,3430)(2135,4180)(2142,2360)(2160,1100)(2181,1330)};
\end{axis}

\begin{scope}[x=0.5pt, y=-0.5pt]
  % chart toolbar glyphs
  \fill[black!20] (16,0) rectangle (70,2);
  \draw[black, line width=0.5pt, fill=black!35] (11.5,5.5) rectangle (24.5,18.5);
  \draw[white, line width=0.3pt] (15.5,7) -- (15.5,17) (20.5,7) -- (20.5,17) (13,10) -- (23,10) (13,14) -- (23,14);
  \draw[black, fill=black!35, line width=0.3pt] (2360,853) rectangle (2366,859);
  \draw[black!50, fill=black!30, line width=0.3pt] (10,855) rectangle (13,858);

  % value tags on the right
  \node[font=\rd, text=txtblue, anchor=west, inner sep=0pt] at (2309,7) {HC:-19.63};
  \fill[upc] (2313,214.5) rectangle (2368,228);
  \node[font=\rd, text=white, anchor=west, inner sep=0pt] at (2317,220.5) {13,100};
  \node[font=\rd, text=upc, anchor=west, inner sep=0pt] at (2316,235) {2.75\%};
  \fill[downc] (2313,1048) rectangle (2368,1061);
  \node[font=\rd, text=white, anchor=west, inner sep=0pt] at (2317,1054) {1,003K};
  \node[font=\rd, text=txtblue, anchor=west, inner sep=0pt] at (2316,1066.5) {39.79\%};

  % high and low notes
  \node[font=\an, text=upc, anchor=east, inner sep=0pt] at (2115,15.5) {최고 16,300 (11/20)};
  \draw[upc, line width=0.5pt, -{Latex[length=5pt,width=6pt]}] (2122,16) -- (2136,16);
  \node[font=\an, text=navyl, anchor=east, inner sep=0pt] at (1509,784) {최저 4,508 (03/19)};
  \draw[navyl, line width=0.5pt, -{Latex[length=5pt,width=6pt]}] (1514,784) -- (1529,784);

  % event labels
  \node[font=\an, text=black!75, anchor=center, inner sep=0pt] at (435,434) {배당락(-9.39\%)};
  \node[font=\an, text=black!75, anchor=center, inner sep=0pt] at (1329,416) {배당락(-9.39\%)};
  \node[font=\an, text=black!75, anchor=center, inner sep=0pt] at (1765,436) {권리락(-9.39\%)};
  \node[font=\an, text=black!75, anchor=center, inner sep=0pt] at (1899,488) {유상증자(0.00\%)};
  \draw[red, line width=0.5pt] (1765,445) -- (1765,458);

  % ichimoku readout
  \node[font=\rd, text=teal, anchor=east, inner sep=0pt] at (2303,789) {전환선 9: 13,625};
  \node[font=\rd, text=longg, anchor=east, inner sep=0pt] at (2303,801) {기준선 26: 13,450};
  \node[font=\rd, text=purp, anchor=east, inner sep=0pt] at (2303,813) {후행스팬 26: 13,100};
  \node[font=\rd, text=txtblue, anchor=east, inner sep=0pt] at (2303,825) {선행스팬1 9,26: 13,538};
  \node[font=\rd, text=txtblue, anchor=east, inner sep=0pt] at (2303,837) {선행스팬2 52,26: 12,255};

  % volume legend
  \node[font=\an, anchor=west, inner sep=0pt] at (19,858) {\textcolor{teal}{거래량}\ \ \textcolor{volm}{단순 5}\ \ \textcolor{volo}{20}\ \ \textcolor{volg}{60}\ \ \textcolor{longg}{120}};
  \node[font=\sm, text=black!85, anchor=west, inner sep=0pt] at (11,871) {1,002,839주(39.79\%)};
\end{scope}
\end{tikzpicture}
\end{document}
